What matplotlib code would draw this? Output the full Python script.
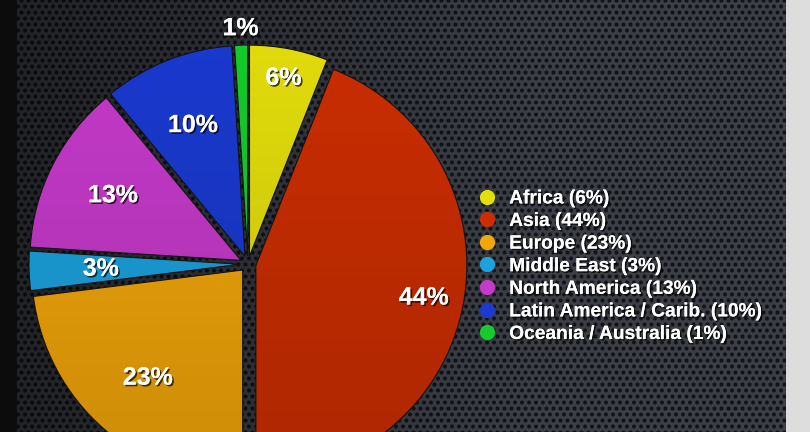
import numpy as np
import matplotlib
matplotlib.use('Agg')
import matplotlib.pyplot as plt
from matplotlib import patheffects
from matplotlib.lines import Line2D

# Dados do gráfico
regioes = ['Africa', 'Asia', 'Europe', 'Middle East', 'North America',
           'Latin America / Carib.', 'Oceania / Australia']
percentuais = [6, 44, 23, 3, 13, 10, 1]
cores = ['#e4de0c', '#cc2e02', '#f2a60a', '#1ca2de', '#c63aca', '#1a3ad0', '#14cc2c']
# distância do rótulo (fração do raio) para cada fatia
dist_rotulo = [0.86, 0.81, 0.68, 0.66, 0.68, 0.67, 1.08]

W, H = 810, 432
plt.rcParams['font.family'] = ['Liberation Sans', 'DejaVu Sans']


def fundo_fibra(w, h):
    """Textura escura perfurada do fundo."""
    yy, xx = np.mgrid[0:h, 0:w].astype(float)
    px, py = 7.0, 6.0
    j = np.round(yy / py)
    cx = np.round((xx - (j % 2) * px / 2) / px) * px + (j % 2) * px / 2
    d = np.hypot(xx - cx, yy - j * py)
    furo = np.clip((2.6 - d) / 1.2, 0, 1)
    base = np.array([0.24, 0.25, 0.28])
    escuro = np.array([0.07, 0.075, 0.09])
    img = base * (1 - furo[..., None]) + escuro * furo[..., None]
    # vinheta: mais escuro à esquerda
    mult = 0.55 + 0.45 * np.clip((xx - 20) / 520, 0, 1)
    img = img * mult[..., None]
    img[:, :17] = 0.05
    img[:, 786:] = 0.87
    return np.clip(img, 0, 1)


fig = plt.figure(figsize=(W / 100, H / 100), dpi=100)
ax = fig.add_axes([0, 0, 1, 1])
ax.imshow(fundo_fibra(W, H), extent=(0, W, 0, H), origin='upper', zorder=0, aspect='auto')

raio = 211
centro = (248, H - 264)
wedges, _ = ax.pie(percentuais, colors=cores, startangle=90, counterclock=False,
                   explode=[8] * len(percentuais), radius=raio, center=centro,
                   wedgeprops=dict(edgecolor='#141414', linewidth=0.8, zorder=2))

# leve gradiente vertical em cada fatia
grad = np.zeros((H, 2, 4))
grad[..., 3] = np.linspace(0.0, 0.14, H)[:, None]
for w in wedges:
    im = ax.imshow(grad, extent=(0, W, 0, H), origin='upper', zorder=3, aspect='auto')
    im.set_clip_path(w)

sombra = [patheffects.withSimplePatchShadow(offset=(1.2, -1.2), shadow_rgbFace='black', alpha=0.7),
          patheffects.Normal()]

for w, p, fr in zip(wedges, percentuais, dist_rotulo):
    ang = np.deg2rad((w.theta1 + w.theta2) / 2)
    x = w.center[0] + fr * raio * np.cos(ang)
    y = w.center[1] + fr * raio * np.sin(ang)
    ax.text(x, y, f'{p}%', ha='center', va='center', color='white', fontsize=18,
            fontweight='bold', zorder=5, path_effects=sombra)

ax.set_xlim(0, W)
ax.set_ylim(0, H)
ax.set_aspect('auto')
ax.axis('off')

handles = [Line2D([], [], linestyle='none', marker='o', markersize=11,
                  markerfacecolor=c, markeredgecolor='none') for c in cores]
rotulos = [f'{r} ({p}%)' for r, p in zip(regioes, percentuais)]
leg = fig.legend(handles, rotulos, loc='upper left', bbox_to_anchor=(477 / W, 1 - 190 / H),
                 frameon=False, fontsize=13.8, handlelength=1.0, handletextpad=0.68,
                 labelspacing=0.27, borderpad=0, borderaxespad=0)
for t in leg.get_texts():
    t.set_color('white')
    t.set_fontweight('bold')
    t.set_path_effects(sombra)

fig.savefig('out.png', dpi=100)
